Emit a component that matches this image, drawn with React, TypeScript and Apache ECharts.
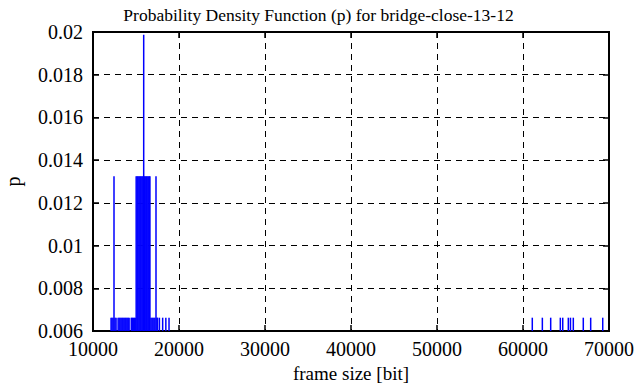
import React, { useEffect, useRef } from "react";
import * as echarts from "echarts";

// frame sizes [bit] and their probability p
const frameSizes: number[] = [
  12100, 12210, 12330, 12442, 12560, 12680, 12920, 13040, 13150, 13270, 13390, 13500,
  13620, 13740, 13850, 13970, 14090, 14200, 14450, 14570, 14680, 14800, 14910,
  15020, 15140, 15250, 15370, 15490, 15600, 15720, 15840, 15895, 15960, 16070, 16190,
  16300, 16420, 16540, 16620, 16740, 16860, 16970, 17090, 17200, 17326, 17440, 17500,
  17720, 18100, 18470, 18840,
  61080, 62250, 63220, 64340, 64620, 65270, 65520, 65850, 67010, 67870, 69270,
];
const probabilities: number[] = [
  0.006623, 0.006623, 0.006623, 0.013245, 0.006623, 0.006623, 0.006623, 0.006623, 0.006623, 0.006623, 0.006623, 0.006623,
  0.006623, 0.006623, 0.006623, 0.006623, 0.006623, 0.006623, 0.006623, 0.006623, 0.006623, 0.006623, 0.006623,
  0.013245, 0.013245, 0.013245, 0.013245, 0.013245, 0.013245, 0.013245, 0.013245, 0.019868, 0.013245, 0.013245, 0.013245,
  0.013245, 0.013245, 0.013245, 0.013245, 0.006623, 0.006623, 0.006623, 0.006623, 0.006623, 0.013245, 0.006623, 0.006623,
  0.006623, 0.006623, 0.006623, 0.006623,
  0.006623, 0.006623, 0.006623, 0.006623, 0.006623, 0.006623, 0.006623, 0.006623, 0.006623, 0.006623, 0.006623,
];

const xMin = 10000;
const xMax = 70000;
const xStep = 10000;
const yMin = 0.006;
const yMax = 0.02;
const yStep = 0.002;

const titleText = "Probability Density Function (p) for bridge-close-13-12";
const xName = "frame size [bit]";
const yName = "p";

const FONT = "Liberation Serif";

export default function App() {
  const ref = useRef<HTMLDivElement>(null);
  useEffect(() => {
    if (!ref.current) return;
    const chart = echarts.init(ref.current, undefined, { renderer: "svg" });
    const data = frameSizes.map((x, i) => [x, probabilities[i]]);
    const dashed = { show: true, lineStyle: { color: "#000", width: 1, type: [6, 5] as any } };
    const tick = { show: true, inside: true, length: 6, lineStyle: { color: "#000", width: 1.5 } };
    chart.setOption({
      animation: false,
      backgroundColor: "#fff",
      textStyle: { fontFamily: FONT },
      title: {
        text: titleText,
        left: "center",
        top: 1,
        textStyle: { fontFamily: FONT, fontSize: 17.5, fontWeight: "normal", color: "#000" },
      },
      grid: {
        left: 93, right: 28, top: 32, bottom: 56,
        show: true, borderColor: "#000", borderWidth: 2,
        outerBoundsMode: "none", containLabel: false,
      },
      xAxis: [
        {
          type: "value",
          min: xMin,
          max: xMax,
          interval: xStep,
          name: xName,
          nameLocation: "middle",
          nameGap: 33,
          nameTextStyle: { fontFamily: FONT, fontSize: 19, color: "#000" },
          axisLine: { show: false },
          axisTick: tick,
          axisLabel: {
            fontFamily: FONT, fontSize: 20, color: "#000", margin: 8,
            formatter: (v: number) => String(v),
          },
          splitLine: dashed,
        },
        {
          type: "value",
          position: "top",
          min: xMin,
          max: xMax,
          interval: xStep,
          axisLine: { show: false },
          axisTick: tick,
          axisLabel: { show: false },
          splitLine: { show: false },
        },
      ],
      yAxis: [
        {
          type: "value",
          min: yMin,
          max: yMax,
          interval: yStep,
          name: yName,
          nameLocation: "middle",
          nameGap: 70,
          nameRotate: 90,
          nameTextStyle: { fontFamily: FONT, fontSize: 20, color: "#000" },
          axisLine: { show: false },
          axisTick: tick,
          axisLabel: {
            fontFamily: FONT,
            fontSize: 20,
            color: "#000",
            margin: 10,
            formatter: (v: number) => String(parseFloat(v.toFixed(3))),
          },
          splitLine: dashed,
        },
        {
          type: "value",
          position: "right",
          min: yMin,
          max: yMax,
          interval: yStep,
          axisLine: { show: false },
          axisTick: tick,
          axisLabel: { show: false },
          splitLine: { show: false },
        },
      ],
      series: [
        {
          type: "custom",
          xAxisIndex: 0,
          yAxisIndex: 0,
          data,
          clip: true,
          renderItem: (params: any, api: any) => {
            const x = api.value(0);
            const y = api.value(1);
            const top = api.coord([x, y]);
            const base = api.coord([x, yMin]);
            const w = 1.5;
            return {
              type: "rect",
              shape: { x: top[0] - w / 2, y: top[1], width: w, height: base[1] - top[1] },
              style: { fill: "#0000ff" },
            };
          },
        },
      ],
    });
    return () => chart.dispose();
  }, []);
  return <div ref={ref} style={{ width: 637, height: 387, position: "absolute", left: 0, top: 0 }} />;
}
